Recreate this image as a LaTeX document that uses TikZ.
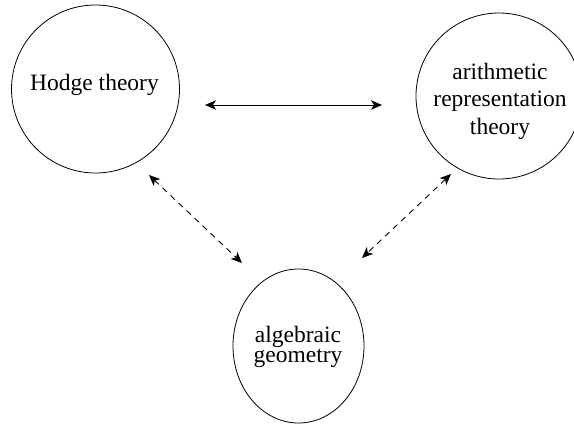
\documentclass[tikz,border=0pt]{standalone}
\usepackage{fontspec}
\setmainfont{Liberation Serif}
\usetikzlibrary{arrows.meta,shapes.geometric}
\begin{document}
\begin{tikzpicture}[x=1pt,y=-1pt,
  bubble/.style={draw,line width=0.8pt,circle,inner sep=0pt},
  label/.style={font=\fontsize{23.5}{27.5}\selectfont,align=center,inner sep=0pt},
  link/.style={line width=0.9pt,{Stealth[length=11pt,width=9.5pt,inset=3pt]}-{Stealth[length=11pt,width=9.5pt,inset=3pt]}},
  dlink/.style={link,dash pattern=on 6pt off 5pt}]
\useasboundingbox (0,0) rectangle (574,424);
\node[bubble,minimum size=168pt] (hodge) at (95.5,89) {};
\node[label] (hodgetext) at (94.5,85) {Hodge theory};
\node[bubble,minimum size=166pt] (arith) at (499,96) {};
\node[label] (arithtext) at (500,101) {arithmetic\\representation\\theory};
\node[draw,line width=0.8pt,ellipse,inner sep=0pt,minimum width=131pt,minimum height=154pt] (alg) at (298.5,346) {};
\node[label,font=\fontsize{23.5}{20}\selectfont] (algtext) at (298,347) {algebraic\\geometry};
\coordinate (h1) at (205,105);
\coordinate (a1) at (382,105);
\coordinate (h2) at (149,175);
\coordinate (g1) at (242,263);
\coordinate (a2) at (451,174);
\coordinate (g2) at (362,258);
\draw[link] (h1) -- (a1);
\draw[dlink] (h2) -- (g1);
\draw[dlink] (a2) -- (g2);
\end{tikzpicture}
\end{document}
